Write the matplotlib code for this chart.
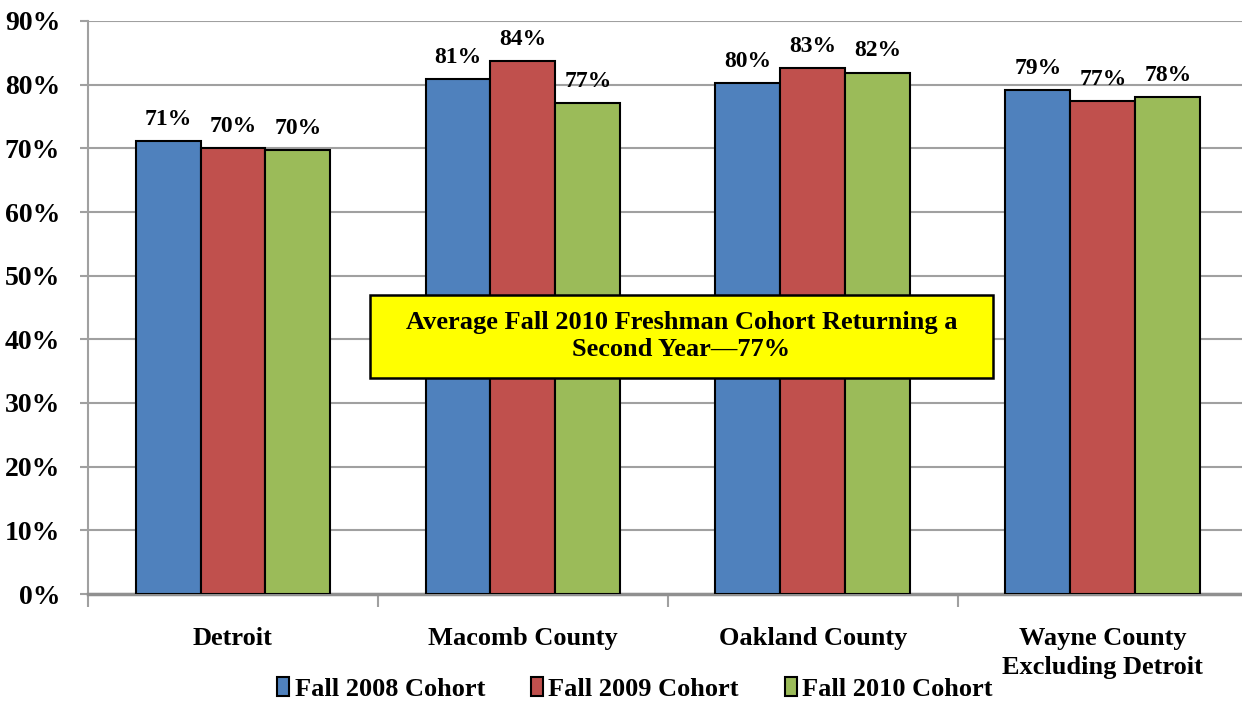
import matplotlib
matplotlib.use("Agg")
import matplotlib.pyplot as plt
from matplotlib.patches import Rectangle
import numpy as np

# retention rates (%)
categories = ["Detroit", "Macomb County", "Oakland County", "Wayne County\nExcluding Detroit"]
series_names = ["Fall 2008 Cohort", "Fall 2009 Cohort", "Fall 2010 Cohort"]
fall2008 = [71.2, 80.9, 80.3, 79.1]
fall2009 = [70.0, 83.7, 82.6, 77.4]
fall2010 = [69.7, 77.1, 81.9, 78.1]
colors = ["#4F81BD", "#C0504D", "#9BBB59"]
yticks = list(range(0, 100, 10))
note = "Average Fall 2010 Freshman Cohort Returning a\nSecond Year\u201477%"

plt.rcParams['font.family'] = ['Liberation Serif', 'DejaVu Serif']
plt.rcParams['font.weight'] = 'bold'

W, H = 1242, 702
fig = plt.figure(figsize=(W/100, H/100), dpi=100)
ax = fig.add_axes([88/W, 1-594/H, (W-88)/W, (594-21)/H])

x = np.arange(len(categories))
w = 0.224
for i, (vals, name, c) in enumerate(zip([fall2008, fall2009, fall2010], series_names, colors)):
    pos = x + (i-1)*w
    ax.bar(pos, vals, width=w, color=c, edgecolor='black', linewidth=1.5, label=name, zorder=3)
    for px, v in zip(pos, vals):
        ax.annotate("%d%%" % round(v), (px, v), xytext=(0, 8), textcoords='offset points',
                    ha='center', va='bottom', fontsize=17, fontweight='bold')

ax.set_xlim(-0.5, 3.48)
ax.set_ylim(0, 90)
ax.set_yticks(yticks)
ax.set_yticklabels(["%d%%" % t for t in yticks], fontsize=20, fontweight='bold')
ax.yaxis.grid(True, color='#A0A0A0', linewidth=1.5, zorder=0)
ax.set_axisbelow(True)
ax.tick_params(axis='y', length=6, color='#A0A0A0', width=1.5, pad=14)

# category boundary ticks, labels between them
ax.set_xticks(np.arange(-0.5, 3.5, 1.0))
ax.set_xticklabels([])
ax.set_xticks(x, minor=True)
ax.set_xticklabels(categories, minor=True, fontsize=19, fontweight='bold', va='top', linespacing=1.3)
ax.tick_params(axis='x', which='major', length=9, color='#A0A0A0', width=1.5, direction='out')
ax.tick_params(axis='x', which='minor', length=0, pad=24)

for s in ['top', 'right']:
    ax.spines[s].set_visible(False)
ax.spines['left'].set_color('#A0A0A0')
ax.spines['left'].set_linewidth(1.5)
ax.spines['bottom'].set_color('#909090')
ax.spines['bottom'].set_linewidth(2.5)

# yellow call-out box
fig.patches.append(Rectangle((370/W, 1-378/H), 623/W, 83/H, transform=fig.transFigure,
                             facecolor='#FFFF00', edgecolor='black', linewidth=1.8, zorder=5))
fig.text(681.5/W, 1-336/H, note, ha='center', va='center', fontsize=19, fontweight='bold',
         linespacing=1.25, zorder=6)

fig.legend(loc='center', bbox_to_anchor=(635/W, 1-689/H), ncol=3, frameon=False,
           handlelength=0.45, handleheight=0.75, handletextpad=0.2, columnspacing=1.75,
           borderpad=0, prop={'weight': 'bold', 'size': 19})

fig.savefig("out.png", dpi=100)
